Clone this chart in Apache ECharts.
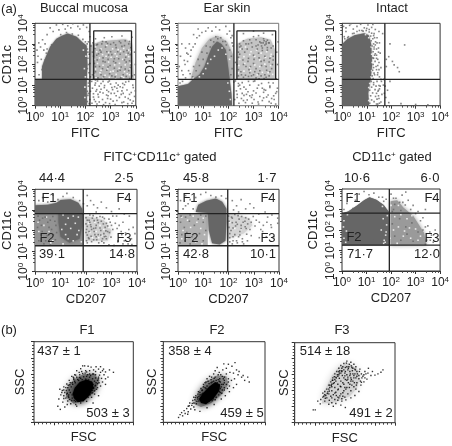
<!DOCTYPE html>
<html><head><meta charset="utf-8">
<style>html,body{margin:0;padding:0;background:#fff}#c{width:452px;height:446px}</style>
<script src="https://cdn.jsdelivr.net/npm/echarts@6/dist/echarts.min.js"></script></head>
<body><div id="c"></div>
<script>
// Flow-cytometry gates and events. Values are log10 x 100 for (a), linear channel for (b).
const buccalDense=[[0,0],[0,128],[28,130],[28,190],[41,232],[60,286],[85,325],[107,340],[130,350],[165,335],[190,305],[205,292],[208,200],[205,100],[206,0]];
const buccalMid=[[225,128],[222,295],[260,312],[310,318],[360,322],[385,300],[392,128]];
const buccalEvents=[60,378,85,392,110,395,130,388,150,398,170,385,192,392,205,380,120,372,142,378,178,372,95,368,72,360,48,345,30,320,15,305,40,300,22,285,8,270,35,270,12,240,45,255,25,225,10,210,38,212,28,175,16,150,215,360,218,335,212,310,222,290,208,275,215,250,210,230,218,205,208,180,214,160,220,140,216,120,212,95,220,70,210,50,218,30,215,10,240,110,255,95,270,118,285,75,300,105,315,60,330,100,345,72,360,115,375,55,390,88,232,42,250,55,268,30,290,48,310,22,335,40,352,18,370,35,385,12,240,20,262,80,295,120,325,85,348,108,240,325,275,330,305,335,345,338,385,332,395,260,398,200,395,150,230,305,248,298,268,312,288,302,312,306,335,312,358,315,372,300,238,278,258,270,280,285,300,262,322,282,345,288,365,268,380,282,232,240,252,252,270,232,292,246,315,228,338,250,360,235,378,248,236,205,256,190,278,212,298,195,320,208,342,188,362,212,382,198,240,165,262,150,285,172,305,145,328,168,350,150,372,170,385,145,245,295,265,300,282,310,300,298,320,295,340,305,355,292,375,312,228,260,245,245,262,260,285,262,305,248,328,262,352,262,370,255,247,222,270,215,290,225,312,215,332,228,355,222,375,218,240,190,268,180,290,188,315,182,338,172,358,178,378,185,228,150,250,135,272,140,296,155,318,140,340,135,362,142,376,132,32,135,36,165,44,200,40,222,54,248,48,275,66,296,82,312,102,345,125,355,148,348,172,342,190,322,200,310,207,300,210,260,212,200,209,130,212,110,208,70,212,60,208,20];
const buccalLower=[225,118,238,100,248,120,262,108,276,98,290,115,305,88,322,110,338,92,355,102,372,118,388,100,228,85,245,78,258,66,275,88,292,68,308,78,328,70,348,88,365,76,382,64,398,72,232,58,252,42,270,62,288,35,302,60,322,48,342,55,358,42,378,28,395,45,235,30,255,18,280,15,300,32,325,25,345,15,368,10,390,22,226,12,246,8,272,5,296,10,318,6,242,70,284,52,316,92,350,60,240,125];
const buccalHoles=[240,285,262,275,285,292,308,276,330,272,352,278,372,270,245,262,268,248,292,258,318,252,340,265,362,248,380,262,236,225,256,232,282,240,302,235,325,240,348,225,372,238,248,205,270,196,292,212,316,198,335,206,358,198,378,205,240,178,262,172,288,178,310,168,334,182,355,165,376,180,236,150,258,160,278,148,300,165,322,152,345,142,366,155,242,135,270,134,295,138,320,132,352,136,375,150,196,180,200,140,198,90,202,240,192,270,198,40];
const earDense=[[0,0],[0,95],[40,105],[60,128],[85,150],[105,190],[120,240],[135,285],[155,312],[172,300],[190,270],[198,200],[205,130],[212,60],[215,0]];
const earMid=[[50,130],[70,210],[95,280],[125,325],[158,340],[195,310],[218,250],[222,128]];
const earRight=[[234,128],[234,300],[275,325],[330,332],[368,320],[385,270],[385,128]];
const earEvents=[8,110,18,118,30,135,20,150,42,170,28,200,50,240,35,255,60,285,45,300,75,330,62,345,95,355,80,372,120,378,150,382,190,385,205,362,215,340,218,290,212,240,228,210,215,180,210,150,222,115,240,108,262,90,280,118,300,72,320,100,340,65,360,112,380,48,395,85,235,40,255,60,275,28,295,52,318,18,340,38,362,20,382,30,245,100,272,55,305,120,335,85,365,95,390,130,395,200,392,260,398,310,260,350,300,362,340,352,375,345,300,335,320,340,340,325,350,310,330,305,310,290,345,295,360,305,335,280,355,270,285,320,270,300,250,290,265,260,245,250,300,245,320,255,345,240,365,230,280,230,300,205,330,215,350,190,270,190,250,165,285,160,320,155,345,150,300,150,310,135,330,145,280,142,260,138,350,138,365,165,240,145,245,300,240,260,235,200,375,200,378,240,378,290,325,310,338,305,350,300,318,295,332,290,342,315,355,318,362,305,310,320,292,305,280,300,260,315,245,285,255,275,275,275,295,285,315,275,335,268,355,282,370,280,240,235,258,222,278,215,302,225,322,232,342,220,362,212,378,222,260,200,288,190,310,180,332,195,352,172,372,180,240,175,282,175,305,165,325,170,362,145,252,150,268,148,292,145,342,132,322,130,58,140,72,170,85,195,100,225,115,255,128,285,142,310,158,325,178,312,192,295,205,270,48,155,62,190,80,225,95,260,112,290,130,318,150,335,170,330,188,312];
const earLower=[228,120,240,95,255,112,270,80,285,100,300,118,315,85,332,108,348,75,365,88,378,110,392,68,232,72,248,82,262,50,278,68,292,40,310,62,325,45,342,78,358,52,372,35,388,60,235,55,252,35,268,15,285,48,302,30,320,8,335,25,352,42,370,12,388,8,225,30,242,12,260,25,295,12,15,300,30,280,10,240,25,220,40,250,5,190,15,170,38,215,52,270,68,300,85,340,110,362,135,362,165,368,195,348,210,330,215,305];
const earHoles=[248,275,268,285,290,262,312,270,330,255,352,262,370,250,245,225,262,238,285,248,305,240,325,222,348,235,368,240,242,195,265,205,285,185,305,198,325,190,345,202,368,195,240,160,262,168,288,170,315,150,335,162,358,160,376,152,60,135,85,140,100,155,110,180,118,205,130,225,145,240,160,270,175,280,190,250,205,225,198,110,204,70,208,30];
const intactDense=[[0,0],[0,300],[20,322],[50,342],[90,352],[108,342],[118,300],[122,200],[116,130],[106,60],[110,0]];
const intactEvents=[15,378,30,390,45,372,60,385,75,395,90,378,105,392,120,380,135,370,150,360,142,330,152,305,148,280,155,255,140,230,150,210,158,185,145,160,152,140,160,118,155,95,148,75,162,55,150,35,158,18,145,8,8,335,15,360,5,385,180,225,190,238,180,190,205,215,212,198,226,185,233,165,170,128,168,100,172,60,195,118,255,295,195,300,175,95,190,15,240,10,300,6,350,4,178,40,185,75,35,398,70,365,110,370,130,350,165,350,125,395,130,20,136,45,134,78,140,60,128,112,138,95,132,150,140,175,128,230,135,252,130,285,136,310,128,340,142,305,22,330,48,352,80,365,100,375];
const intactEdge=[112,12,120,28,116,48,124,62,112,75,120,90,128,102,118,118,126,132,122,145,130,158,124,172,128,185,126,200,134,215,125,232,132,245,126,262,130,275,122,290,128,300,118,315,125,325,116,338,120,352,110,358,148,48,142,32,152,12,140,8,146,70,152,82,142,118,150,98,144,150,138,190,145,195,140,245,148,260,140,275,135,295,132,330,98,365,85,362,60,360,42,350,10,325,25,335,145,225,150,175,158,128];
const intactHoles=[108,25,112,42,108,88,112,108,118,140,120,170,122,210,120,250,118,285,108,330,95,345];
const f1Dense=[[0,282],[0,322],[50,325],[85,335],[100,348],[140,352],[170,335],[185,305],[186,282],[185,220],[175,160],[135,140],[100,170],[92,240],[92,282]];
const f1Mid=[[0,126],[189,126],[189,285],[0,285]];
const f1Right=[[198,150],[285,150],[300,200],[270,250],[198,270]];
const f1Events=[15,345,30,360,50,338,70,372,90,350,110,365,125,380,150,360,175,345,190,330,205,370,218,345,230,325,245,310,260,338,205,320,280,310,300,292,330,305,350,280,370,270,320,270,345,240,385,215,378,160,340,180,322,210,350,150,365,135,325,150,305,270,290,255,265,265,240,290,215,275,12,270,30,260,50,240,70,268,82,225,10,215,28,195,48,175,65,205,80,155,15,150,35,135,60,130,215,240,230,210,248,180,265,160,285,195,300,225,230,155,212,195,205,140,270,140,290,130,310,128,205,220,222,205,240,225,258,200,275,215,295,240,270,185,235,180,210,165,250,140,205,250,225,260,245,250,260,245,280,235,305,205,18,250,40,265,60,250,78,245,25,225,55,215,72,180,42,150,85,190];
const f1Right2=[200,262,212,250,228,272,242,262,255,268,272,258,200,232,218,228,232,248,248,238,268,232,285,222,202,205,220,218,238,212,255,212,278,198,292,190,205,178,220,172,240,170,258,178,280,160,298,168,202,150,222,146,242,155,262,148,278,172,315,235,330,225,338,195,355,188,368,205,325,145,345,135,380,132,392,185,200,190,212,160,232,195,272,170];
const f1Holes=[12,240,35,225,55,195,25,170,70,150,45,265,15,195,62,140,110,135,130,160,150,150,165,180,105,205,120,230,140,210,158,235,172,200,110,275,130,260,150,270,170,265,182,145,120,180,210,235,235,240,255,225,270,205,290,215,215,190,240,195,262,175,225,165,250,165,280,175];
const f2Dense=[[70,290],[80,325],[112,345],[150,355],[175,340],[192,305],[192,240],[188,150],[165,132],[135,138],[122,200],[118,285]];
const f2Mid=[[0,128],[118,128],[118,285],[0,285]];
const f2Right=[[198,160],[260,185],[295,225],[280,260],[225,278],[198,285]];
const f2Events=[10,345,30,370,48,350,70,360,90,375,110,385,130,370,150,362,172,368,190,355,215,345,232,320,250,350,268,305,285,330,300,310,220,300,240,290,320,280,345,290,372,275,395,260,352,240,370,215,335,195,350,170,380,170,322,165,290,175,12,270,30,265,48,275,10,240,25,215,45,245,15,180,35,190,55,170,8,140,28,150,48,135,95,310,215,135,235,140,255,160,275,150,260,135,65,225,80,255,100,240,110,200,85,185,70,160,100,150,215,260,230,240,250,225,270,210,210,200,225,180,245,195,265,245,110,270,90,275,205,165,60,305,40,330,20,305,30,320,75,295];
const f2Right2=[200,270,212,265,225,278,238,272,252,268,268,262,280,255,298,268,202,245,215,238,228,222,242,255,258,240,276,232,290,240,310,250,202,215,218,212,235,230,250,210,266,218,285,205,305,222,205,185,218,170,232,150,245,178,205,145,218,150,240,170,255,145,272,182,322,240,338,225,355,265,368,228,395,235,328,205];
const f2Holes=[15,265,38,250,60,270,20,200,50,215,75,240,90,210,35,165,70,145,105,180,15,160,95,135,100,260,205,240,225,210,250,205,230,165];
const cdDense=[[0,126],[0,282],[25,290],[60,318],[90,345],[112,360],[140,348],[170,322],[190,290],[192,126]];
const cdMid=[[198,126],[198,340],[225,345],[250,310],[290,270],[335,185],[345,128]];
const cdEvents=[8,300,20,330,35,360,55,345,70,375,90,388,110,372,130,380,150,360,170,340,200,375,220,355,245,370,270,345,290,320,310,290,330,260,350,220,365,175,372,140,380,200,340,300,260,385,20,280,45,305,5,260,15,240,340,130,360,150,205,290,215,325,235,335,258,322,280,300,300,280,320,245,340,215,248,335,210,355,180,350,165,360,345,150,358,190,130,150,190,140,215,170,240,150,265,180,290,145,205,230,235,255,260,215,285,235,310,190,210,300,240,295,330,200];
const cdHoles=[170,135,195,160,225,135,250,170,280,160,310,150,180,190,210,200,230,215,255,195,275,210,300,205,320,170,185,270,215,265,240,275,265,255,285,270,165,315,200,320,230,320,22,275,8,245,6,215,18,195,8,160,15,140,172,150,178,175,160,200,182,225,168,255,176,140];
const scF1Halo=[[320,310],[400,230],[510,280],[620,390],[660,520],[610,600],[500,600],[400,530],[330,420]];
const scF1Dense=[[400,300],[440,250],[500,260],[560,340],[600,430],[590,500],[530,530],[460,500],[410,430],[390,360]];
const scF1Events=[240,200,265,160,290,250,310,190,335,220,250,290,270,340,285,395,260,410,300,440,330,475,355,520,380,570,410,590,430,640,470,665,490,700,520,640,545,695,575,685,600,650,625,690,650,660,670,690,690,640,720,625,745,560,800,620,620,590,660,585,705,590,640,520,690,500,720,470,670,450,640,430,610,350,580,310,530,260,470,240,420,220,370,230,340,265,510,700,560,600,460,590,400,550,430,200,720,540,760,650,595,240,650,330,300,330,320,300,345,325,360,285,385,300,405,270,430,285,450,265,470,290,495,270,520,300,545,310,565,340,590,365,610,390,630,410,655,490,610,510,590,540,560,560,530,570,500,565,470,545,440,530,410,510,385,490,360,465,340,430,325,395,310,370,335,360,355,400,375,440,390,470,415,490,450,520,485,530,520,535,550,525,575,500,595,470,600,430,590,395,575,365,555,350,530,320,505,300,475,310,440,300,410,320,385,340,365,370,350,340,300,295,280,370,300,400,320,430,345,460,365,490,400,535,430,560,460,555,490,605,530,625,560,640,590,600,620,550,650,540,680,545,640,480,620,460,600,600,570,580,540,590,515,610,480,630,455,620,420,585,395,560,600,420,615,450,625,490,330,350,350,310,380,270,420,260,460,275,500,290,650,560,670,620,700,660,620,630];
const scF2Halo=[[300,230],[370,190],[470,240],[570,340],[640,470],[620,570],[530,580],[430,510],[350,390]];
const scF2Dense=[[370,240],[420,225],[490,290],[550,390],[560,470],[510,500],[450,440],[390,360],[350,290]];
const scF2Events=[150,60,165,95,180,120,190,80,205,145,215,110,230,170,245,130,255,205,270,165,285,235,300,190,310,280,325,230,335,310,350,265,360,340,380,395,395,440,410,490,430,540,455,570,480,500,495,600,510,640,530,680,550,620,565,590,585,650,595,725,620,670,640,720,655,620,675,695,690,610,705,740,720,650,735,590,745,630,770,560,785,580,800,520,830,560,845,500,670,520,700,540,720,470,690,430,650,380,610,330,570,290,500,220,430,180,360,135,310,155,240,100,600,520,640,540,290,270,315,305,340,290,365,300,385,270,410,250,435,270,460,285,490,290,520,310,545,340,560,370,580,400,600,430,620,470,640,500,600,490,575,470,590,540,560,500,540,530,520,520,495,510,470,490,450,480,430,450,410,430,385,400,360,370,340,350,320,330,300,310,370,340,390,360,420,420,440,510,470,530,510,560,530,490,550,510,570,440,590,470,560,420,550,380,510,280,480,270,450,260,400,290,375,320,350,320,345,380,370,420,395,470,420,500,475,560,500,545,555,540,600,560,620,600,580,570,540,590,650,450,630,420,600,400,575,360,420,350,440,360,460,390,490,370,505,400,520,430,400,340,380,350,280,210,300,240,330,260,260,240,245,200];
const scF3Band=[[270,240],[390,250],[550,330],[620,430],[650,560],[620,680],[530,745],[440,700],[370,590],[290,380]];
const scF3Events=[185,160,205,160,260,290,280,320,300,350,320,310,345,280,370,250,410,240,460,220,505,190,230,270,255,235,300,270,340,230,385,205,430,280,470,270,510,285,560,310,600,340,640,390,610,420,660,470,690,510,720,545,760,590,800,595,860,630,880,660,830,610,775,640,730,620,700,640,690,600,670,560,640,590,620,640,650,670,610,700,590,730,560,755,520,770,490,740,460,715,440,680,420,640,400,610,380,560,360,510,340,470,320,420,300,390,280,370,340,360,370,400,400,440,430,480,460,520,490,560,520,600,550,640,580,680,610,560,580,520,550,480,520,440,490,400,460,360,430,320,400,290,370,310,340,420,370,480,400,540,430,580,460,620,490,660,520,700,550,590,580,610,520,530,490,480,460,450,430,410,400,370,440,640,470,680,500,620,530,660,560,560,590,590,620,500,590,450,560,400,530,360,500,320,470,300,310,340,330,385,350,440,365,465,385,490,410,520,445,555,475,590,505,640,535,680,565,710,545,730,515,745,480,700,450,650,425,600,395,575,375,530,345,395,325,365,305,305,290,330,360,330,385,350,410,380,435,420,455,455,480,500,505,540,530,570,555,610,575,650,600,670,625,610,640,550,615,470,595,500,570,470,545,440,510,420,480,375,450,335,415,340,440,310,480,330,500,440,535,500,565,540,600,610,620,580,655,520,665,610,645,640,605,660,570,690,540,700,505,690,470,650,445,620,415,560,395,500,370,450,350,470,380,530,410,570,440,600,470,640,500,585,530,545,560,520,590,560,680,580,710,610,735,680,700,560,665,505];
const decadeLabels=['0','1','2','3','4'];
const scatterTickMax=[1000,200];

const logAxisMax=10000,GREY='#666',MID='#b8b8b8';
function pairs(a,scale){const o=[];for(let i=0;i<a.length;i+=2)o.push(scale(a[i],a[i+1]));return o;}
const toLog=(x,y)=>[Math.pow(10,x/100),Math.pow(10,y/100)];
const logPoly=p=>p.map(q=>toLog(q[0],q[1]));
const panels=[
 {box:[34.7,23.3,135.8,105.7],x:'FITC',g:21,polys:[[buccalMid,MID,2],[buccalDense,GREY,2]],ev:buccalEvents.concat(buccalLower),holes:buccalHoles,vx:218,h:[128],rect:[233,383,128,363],c:GREY},
 {box:[178,23.3,278.7,105.7],x:'FITC',g:21,polys:[[earMid,'#b4b4b4',4],[earRight,'#c4c4c4',2],[earDense,GREY,2]],ev:earEvents.concat(earLower),holes:earHoles,vx:222,h:[128],rect:[234,388,128,363],c:GREY,frame:'#777'},
 {box:[342.3,23.3,443.3,105.7],x:'FITC',g:22,polys:[[intactDense,GREY,2]],ev:intactEvents.concat(intactEdge),holes:intactHoles,vx:174,h:[128],c:GREY},
 {box:[35,189.3,137,271.7],x:'CD207',g:21,polys:[[f1Mid,'#939393',0],[f1Right,'#d0d0d0',5],[f1Dense,GREY,3]],ev:f1Events.concat(f1Right2),holes:f1Holes,vx:189,h:[282,126],c:'#666'},
 {box:[178,189.3,279,271.7],x:'CD207',g:21,polys:[[f2Mid,'#b0b0b0',0],[f2Right,'#d4d4d4',5],[f2Dense,GREY,3]],ev:f2Events.concat(f2Right2),holes:f2Holes,vx:197,h:[282,126],c:'#666'},
 {box:[342,189,442.7,271],x:'CD207',g:22,polys:[[cdMid,'#9a9a9a',4],[cdDense,GREY,1]],ev:cdEvents,holes:cdHoles,vx:193,h:[282,126],c:'#666'}
];
const scPanels=[
 {box:[34,341.7,133.3,422.3],g:7,polys:[[scF1Halo,'#777',7],[scF1Dense,'#000',7]],ev:scF1Events},
 {box:[163.3,341.7,265,422.3],g:4,polys:[[scF2Halo,'#888',7],[scF2Dense,'#000',6]],ev:scF2Events},
 {box:[294.7,342.7,395,422.7],g:4,polys:[[scF3Band,'#d2d2d2',7]],ev:scF3Events}
];
const font='"Liberation Sans",Arial,sans-serif';
const grid=[],xAxis=[],yAxis=[],series=[];
function polySeries(idx,poly,color,z,blur){
 series.push({type:'custom',xAxisIndex:idx,yAxisIndex:idx,coordinateSystem:'cartesian2d',silent:true,z,clip:true,
  data:poly,encode:{x:0,y:1},
  renderItem:(p,api)=>{ if(p.dataIndex!==0) return null;
   return {type:'polygon',shape:{points:poly.map(q=>api.coord(q))},style:{fill:color,shadowBlur:blur,shadowColor:color}};}});
}
function lineSeries(idx,pts,color,w){
 series.push({type:'line',xAxisIndex:idx,yAxisIndex:idx,data:pts,symbol:'none',silent:true,z:7,animation:false,clip:false,
  lineStyle:{color:color||'#222',width:w||1.4}});
}
const supLabel=v=>'10{s|'+decadeLabels[Math.round(Math.log10(v))]+'}';
const labelRich={s:{fontSize:8,verticalAlign:'top',padding:[0,0,5,0],fontFamily:font,color:'#222'}};
panels.forEach((p,i)=>{
 const [l,t,r,b]=p.box;
 grid.push({left:l,top:t,width:r-l,height:b-t,show:true,borderColor:p.frame||'#333',borderWidth:1,backgroundColor:'#fff',z:1});
 const common={type:'log',logBase:10,min:1,max:logAxisMax,nameLocation:'middle',nameMoveOverlap:false,gridIndex:i,
   nameTextStyle:{fontFamily:font,fontSize:13,color:'#222'},splitLine:{show:false},minorSplitLine:{show:false},
   axisLine:{show:true,lineStyle:{color:p.frame||'#333',width:1}},
   axisTick:{show:true,length:3,lineStyle:{color:'#333'}},minorTick:{show:true,length:2,splitNumber:5,lineStyle:{color:'#555'}}};
 xAxis.push({...common,name:p.x,nameGap:21,axisLabel:{formatter:supLabel,margin:5,fontFamily:font,fontSize:12,color:'#222',rich:labelRich,hideOverlap:false,showMinLabel:true,showMaxLabel:true}});
 yAxis.push({...common,name:'CD11c',nameGap:p.g,axisLabel:{formatter:supLabel,rotate:90,margin:5,fontFamily:font,fontSize:12,color:'#222',rich:labelRich,hideOverlap:false,showMinLabel:true,showMaxLabel:true}});
 p.polys.forEach((q,k)=>polySeries(i,logPoly(q[0]),q[1],2+k,q[2]));
 series.push({type:'scatter',xAxisIndex:i,yAxisIndex:i,data:pairs(p.holes,toLog),symbol:'rect',symbolSize:1.6,silent:true,z:5,animation:false,itemStyle:{color:'#fff'}});
 series.push({type:'scatter',xAxisIndex:i,yAxisIndex:i,data:pairs(p.ev,toLog),symbol:'rect',symbolSize:1.6,silent:true,z:6,animation:false,itemStyle:{color:p.c}});
 lineSeries(i,[toLog(p.vx,0),toLog(p.vx,400)],'#222',1.3);
 p.h.forEach(h=>lineSeries(i,[toLog(0,h),toLog(400,h)],'#222',1.3));
 if(p.rect){const R=p.rect;lineSeries(i,[toLog(R[0],R[2]),toLog(R[0],R[3]),toLog(R[1],R[3]),toLog(R[1],R[2]),toLog(R[0],R[2])],'#222',1.3);}
});
scPanels.forEach((p,j)=>{
 const i=panels.length+j,[l,t,r,b]=p.box;
 grid.push({left:l,top:t,width:r-l,height:b-t,show:true,borderColor:'#333',borderWidth:1,backgroundColor:'#fff',z:1});
 const common={type:'value',min:0,max:scatterTickMax[0],interval:scatterTickMax[1],gridIndex:i,nameLocation:'middle',nameMoveOverlap:false,
   nameTextStyle:{fontFamily:font,fontSize:13,color:'#222'},splitLine:{show:false},axisLabel:{show:false},
   axisLine:{show:true,lineStyle:{color:'#333'}},axisTick:{show:true,length:3,lineStyle:{color:'#333'}},
   minorTick:{show:true,length:2,splitNumber:5,lineStyle:{color:'#444'}}};
 xAxis.push({...common,name:'FSC',nameGap:9});
 yAxis.push({...common,name:'SSC',nameGap:p.g});
 p.polys.forEach((q,k)=>{ polySeries(i,q[0],q[1],2+k,q[2]); });
 series.push({type:'scatter',xAxisIndex:i,yAxisIndex:i,data:pairs(p.ev,(x,y)=>[x,y]),symbol:'rect',symbolSize:1.4,silent:true,z:5,animation:false,itemStyle:{color:'#000'}});
});
const txt=(s,x,y,extra)=>({type:'text',z:100,x,y,silent:true,style:Object.assign({text:s,fontFamily:font,fontSize:13,fill:'#222',align:'center',verticalAlign:'middle'},extra||{})});
const sup={rich:{s:{fontSize:8,verticalAlign:'top',padding:[0,0,5,0],fontFamily:font,fill:'#222'}}};
const labels=[
 ['(a)',9,9],['Buccal mucosa',84,8],['Ear skin',227,8],['Intact',392,8],
 ['44·4',52,178],['2·5',124,178],['45·8',196,178],['1·7',267,178],['10·6',357,178],['6·0',430,178],
 ['F1',49,198],['F4',124,198],['F2',47,238],['F3',124,238],['39·1',52,254],['14·8',122,254],
 ['F1',190,198],['F4',268,198],['F2',191,238],['F3',268,238],['42·8',196,254],['10·1',263,254],
 ['F1',353,198],['F4',432,198],['F2',354,237],['F3',432,238],['71·7',360,254],['12·0',427,254],
 ['(b)',9,330],['F1',87,330],['F2',217,330],['F3',342,330],
 ['437 ± 1',59,351],['503 ± 3',108,413],['358 ± 4',190,351],['459 ± 5',242,413],['514 ± 18',325,351],['491 ± 2',371,413]
];
const graphic=labels.map(a=>txt(a[0],a[1],a[2]));
graphic.push(txt('FITC{s|+}CD11c{s|+} gated',160,157,sup));
graphic.push(txt('CD11c{s|+} gated',392,157,sup));
const chart=echarts.init(document.getElementById('c'),null,{renderer:'canvas'});
chart.setOption({animation:false,backgroundColor:'#fff',grid,xAxis,yAxis,series,graphic,tooltip:{show:false}});
</script></body></html>
